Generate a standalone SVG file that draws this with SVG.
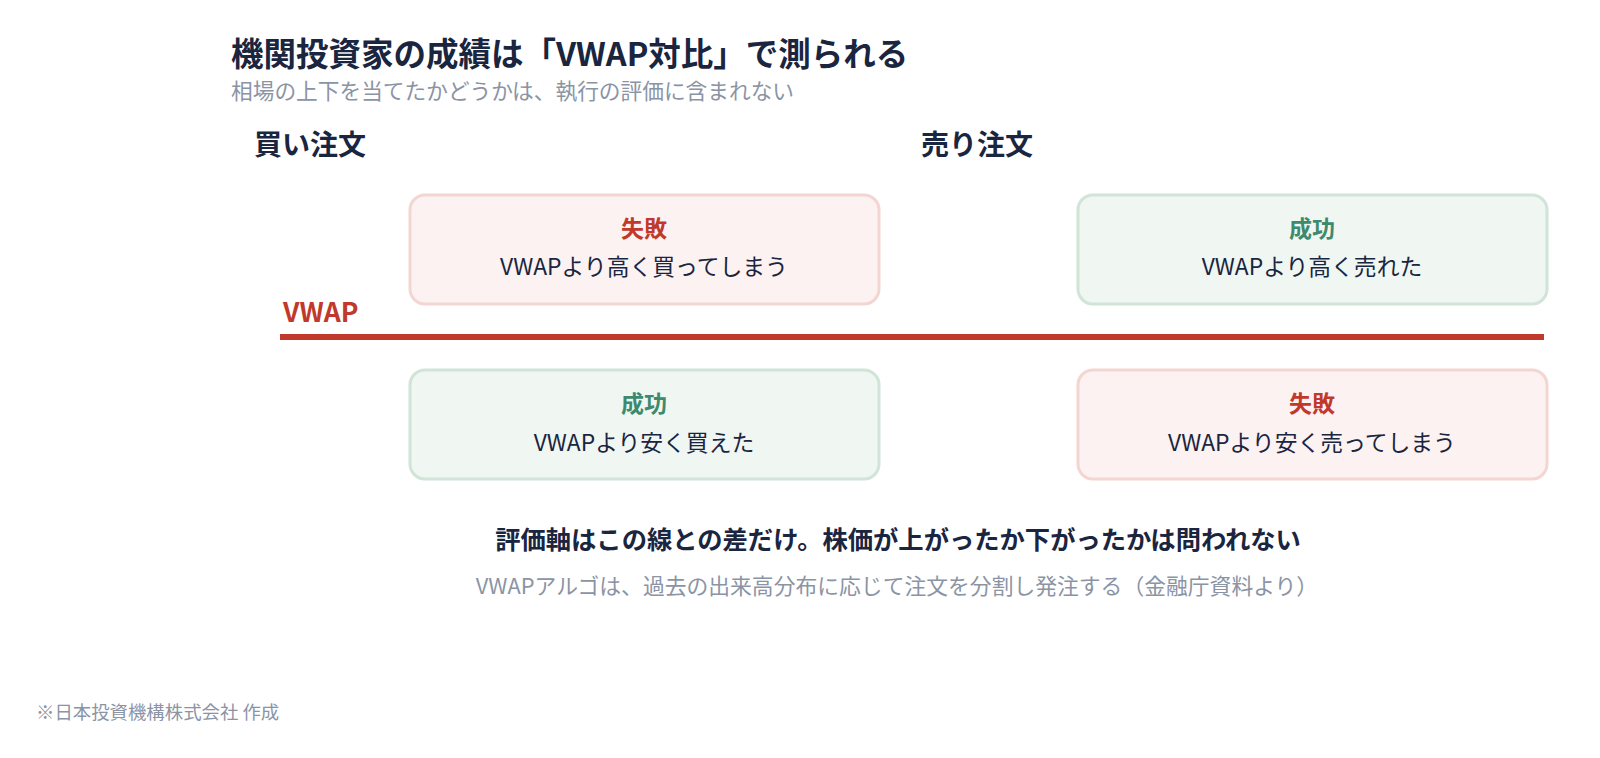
<svg xmlns="http://www.w3.org/2000/svg" width="1600" height="758" viewBox="0 0 1600 758">
<style>
text{font-family:"Noto Sans CJK JP","Noto Sans",sans-serif}
.title{font-size:32.5px;font-weight:700;fill:#1a2540}
.sub{font-size:21.7px;fill:#8b94a5}
.head{font-size:28px;font-weight:700;fill:#1a2540}
.bad{fill:#fcf2f1;stroke:#f3d5d2;stroke-width:3}
.good{fill:#f0f6f2;stroke:#d0e4d7;stroke-width:3}
.lbl-bad{font-size:23px;font-weight:700;fill:#c0392b;text-anchor:middle}
.lbl-good{font-size:23px;font-weight:700;fill:#3d8a6e;text-anchor:middle}
.desc{font-size:22.8px;fill:#1a2540;text-anchor:middle}
.note{font-size:25.3px;font-weight:700;fill:#1a2540;text-anchor:middle}
.src{font-size:21.8px;fill:#8b94a5;text-anchor:middle}
.foot{font-size:18.4px;fill:#8b94a5}
</style>
<rect width="1600" height="758" fill="#ffffff"/>
<g id="header">
<text class="title" x="231" y="66">機関投資家の成績は「VWAP対比」で測られる</text>
<text class="sub" x="231" y="99">相場の上下を当てたかどうかは、執行の評価に含まれない</text>
</g>
<g id="col-buy"><text class="head" x="254" y="155">買い注文</text></g>
<g id="col-sell"><text class="head" x="921" y="155">売り注文</text></g>
<g id="vwap-line">
<text x="283" y="322" fill="#c0392b" style="font-size:26.5px;font-weight:700">VWAP</text>
<line x1="280" y1="337" x2="1544" y2="337" stroke="#c0392b" stroke-width="6"/>
</g>
<g id="buy-high">
<rect class="bad" x="410" y="195" width="469" height="109" rx="15"/>
<text class="lbl-bad" x="644" y="237">失敗</text>
<text class="desc" x="644" y="275">VWAPより高く買ってしまう</text>
</g>
<g id="sell-high">
<rect class="good" x="1078" y="195" width="469" height="109" rx="15"/>
<text class="lbl-good" x="1312" y="237">成功</text>
<text class="desc" x="1312" y="275">VWAPより高く売れた</text>
</g>
<g id="buy-low">
<rect class="good" x="410" y="370" width="469" height="109" rx="15"/>
<text class="lbl-good" x="644" y="412">成功</text>
<text class="desc" x="644" y="451">VWAPより安く買えた</text>
</g>
<g id="sell-low">
<rect class="bad" x="1078" y="370" width="469" height="109" rx="15"/>
<text class="lbl-bad" x="1312" y="412">失敗</text>
<text class="desc" x="1312" y="451">VWAPより安く売ってしまう</text>
</g>
<g id="connectors"></g>
<g id="notes">
<text class="note" x="898" y="549">評価軸はこの線との差だけ。株価が上がったか下がったかは問われない</text>
<text class="src" x="897" y="594">VWAPアルゴは、過去の出来高分布に応じて注文を分割し発注する（金融庁資料より）</text>
</g>
<g id="footer"><text class="foot" x="36" y="719">※日本投資機構株式会社 作成</text></g>
</svg>
